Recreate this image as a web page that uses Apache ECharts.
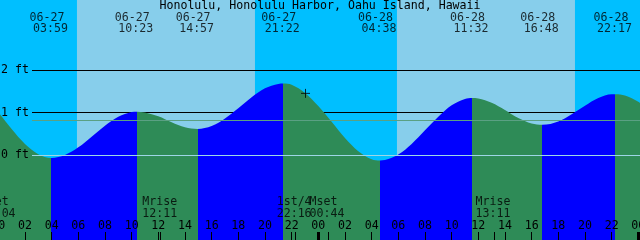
<!DOCTYPE html>
<html><head><meta charset="utf-8">
<script src="https://cdn.jsdelivr.net/npm/echarts@6/dist/echarts.min.js"></script>
<style>html,body{margin:0;padding:0;background:#00BFFF}#c{width:640px;height:240px}</style>
</head><body><div id="c"></div>
<script>
const chartTitle = 'Honolulu, Honolulu Harbor, Oahu Island, Hawaii';
// Tide readings: hours from 06-27 00:00, height in feet
const tideHours = [-1, 0, 1, 2, 3, 3.983, 5, 6, 7, 8, 9, 10, 10.383, 11, 12, 13, 14, 14.95, 16, 17, 18, 19, 20, 21, 21.367, 22, 23, 24, 25, 26, 27, 28, 28.633, 29, 30, 31, 32, 33, 34, 35, 35.533, 36, 37, 38, 39, 40, 40.8, 42, 43, 44, 45, 46, 46.283, 47, 48, 49];
const tideFeet = [1.36, 1.01, 0.61, 0.26, 0.02, -0.07, 0.00, 0.18, 0.43, 0.69, 0.90, 1.01, 1.02, 1.00, 0.91, 0.77, 0.65, 0.61, 0.68, 0.86, 1.10, 1.36, 1.57, 1.67, 1.68, 1.65, 1.46, 1.15, 0.78, 0.40, 0.09, -0.10, -0.13, -0.12, 0.01, 0.26, 0.58, 0.90, 1.17, 1.32, 1.34, 1.33, 1.23, 1.06, 0.87, 0.74, 0.71, 0.79, 0.96, 1.16, 1.34, 1.43, 1.43, 1.40, 1.25, 1.01];
// High / low tide events
const eventHours = [3.983, 10.383, 14.95, 21.367, 28.633, 35.533, 40.8, 46.283];
const eventKinds = ['low', 'high', 'low', 'high', 'low', 'high', 'low', 'high'];
const eventDates = ['06-27', '06-27', '06-27', '06-27', '06-28', '06-28', '06-28', '06-28'];
const eventTimes = ['03:59', '10:23', '14:57', '21:22', '04:38', '11:32', '16:48', '22:17'];
// Daylight
const sunriseHours = [5.9, 29.9];
const sunsetHours = [19.25, 43.25];
// Moon events
const moonHours = [0.067, 12.183, 22.267, 24.733, 37.183];
const moonNames = ['Mset', 'Mrise', '1st/4', 'Mset', 'Mrise'];
const moonTimes = ['00:04', '12:11', '22:16', '00:44', '13:11'];
// Axis ticks
const hourTicks = [0, 2, 4, 6, 8, 10, 12, 14, 16, 18, 20, 22, 24, 26, 28, 30, 32, 34, 36, 38, 40, 42, 44, 46, 48];
const midnightTicks = [0, 24, 48];
const blackLevels = [1, 2];
const datumLevel = 0;
const mslLevel = 0.82;
const nowPoint = [23.04, 1.45];

const FONT = 'DejaVu Sans Mono';
const FS = 11.6;
const NIGHT = '#00BFFF', DAY = '#87CEEB', FLOOD = '#0000FF', EBB = '#2E8B57';
const Y_MIN = -2, Y_MAX = 3.647, X_MIN = 0, X_MAX = 48.1275;

const pieces = [{gte: -10, lt: eventHours[0], color: EBB}];
eventHours.forEach((h, i) => {
  const next = i + 1 < eventHours.length ? eventHours[i + 1] : 60;
  pieces.push({gte: h, lt: next, color: eventKinds[i] === 'low' ? FLOOD : EBB});
});

const txt = {color: '#000', fontFamily: FONT, fontSize: FS};
const baseX = {type: 'value', min: X_MIN, max: X_MAX, position: 'bottom', z: 10,
  axisLine: {show: false, onZero: false}, splitLine: {show: false}};

const chart = echarts.init(document.getElementById('c'), null, {renderer: 'canvas'});
chart.setOption({
  animation: false,
  backgroundColor: NIGHT,
  title: {text: chartTitle, left: 'center', top: 0, padding: 0,
    textStyle: {color: '#000', fontFamily: FONT, fontSize: FS, fontWeight: 'normal'}},
  grid: {left: -1.7, right: 0, top: 0, bottom: 0, containLabel: false, outerBoundsMode: 'none'},
  xAxis: [
    Object.assign({}, baseX, {
      axisTick: {show: true, inside: true, length: 8, customValues: hourTicks, lineStyle: {color: '#000', width: 1}},
      axisLabel: Object.assign({show: true, inside: true, margin: 14.5, verticalAlign: 'middle', customValues: hourTicks,
        formatter: v => String(Math.round(v) % 24).padStart(2, '0')}, txt)
    }),
    Object.assign({}, baseX, {
      axisTick: {show: true, inside: true, length: 8, customValues: midnightTicks, lineStyle: {color: '#000', width: 3}},
      axisLabel: {show: false}
    }),
    Object.assign({}, baseX, {
      axisTick: {show: true, inside: true, length: 8, customValues: moonHours, lineStyle: {color: '#000', width: 1}},
      axisLabel: {show: false}
    })
  ],
  yAxis: {type: 'value', min: Y_MIN, max: Y_MAX, show: false, splitLine: {show: false}},
  visualMap: {type: 'piecewise', show: false, dimension: 0, seriesIndex: 1, pieces: pieces, outOfRange: {color: EBB}},
  series: [
    {type: 'line', name: 'bg', data: [[0, Y_MIN]], showSymbol: false, lineStyle: {opacity: 0}, silent: true, z: 1,
      markArea: {silent: true, z: 0, itemStyle: {color: DAY, opacity: 1},
        data: sunriseHours.map((s, i) => [{xAxis: s}, {xAxis: sunsetHours[i]}])},
      markLine: {silent: true, z: 1, symbol: 'none', precision: 3,
        lineStyle: {color: '#000', width: 1, type: 'solid'},
        label: Object.assign({show: true, position: 'start', distance: 3}, txt),
        emphasis: {disabled: true},
        data: blackLevels.map(v => [{x: 32, yAxis: v, label: {formatter: v + ' ft'}}, {x: 640, yAxis: v}])}
    },
    {type: 'line', name: 'tide', data: tideHours.map((h, i) => [h, tideFeet[i]]),
      smooth: 0.33, showSymbol: false, silent: true, z: 2,
      lineStyle: {width: 0}, areaStyle: {origin: 'start', opacity: 1}},
    {type: 'line', name: 'levels', data: [[0, Y_MIN]], showSymbol: false, lineStyle: {opacity: 0}, silent: true, z: 3,
      markLine: {silent: true, z: 3, symbol: 'none', precision: 3,
        label: Object.assign({show: true, position: 'start', distance: 3}, txt),
        emphasis: {disabled: true},
        data: [
          [{x: 32, yAxis: datumLevel, lineStyle: {color: '#9ed6e6', width: 1, type: 'solid'}, label: {formatter: datumLevel + ' ft'}}, {x: 640, yAxis: datumLevel}],
          [{x: 32, yAxis: mslLevel, lineStyle: {color: '#5aa083', width: 1, type: 'solid'}, label: {show: false}}, {x: 640, yAxis: mslLevel}]
        ]}
    },
    {type: 'scatter', name: 'dates', data: eventHours.map(h => [h, Y_MAX]), symbolSize: 1, clip: false, silent: true, z: 4,
      itemStyle: {color: 'transparent'},
      label: Object.assign({show: true, position: 'inside', offset: [-4.5, 17.5], formatter: p => eventDates[p.dataIndex]}, txt)},
    {type: 'scatter', name: 'times', data: eventHours.map(h => [h, Y_MAX]), symbolSize: 1, clip: false, silent: true, z: 4,
      itemStyle: {color: 'transparent'},
      label: Object.assign({show: true, position: 'inside', offset: [-1, 29.2], formatter: p => eventTimes[p.dataIndex]}, txt)},
    {type: 'scatter', name: 'moonNames', data: moonHours.map(h => [h, Y_MIN]), symbolSize: 1, clip: false, silent: true, z: 4,
      itemStyle: {color: 'transparent'},
      label: Object.assign({show: true, position: 'inside', align: 'left', offset: [-18.5, -37.8], formatter: p => moonNames[p.dataIndex]}, txt)},
    {type: 'scatter', name: 'moonTimes', data: moonHours.map(h => [h, Y_MIN]), symbolSize: 1, clip: false, silent: true, z: 4,
      itemStyle: {color: 'transparent'},
      label: Object.assign({show: true, position: 'inside', align: 'left', offset: [-18.5, -26.1], formatter: p => moonTimes[p.dataIndex]}, txt)},
    {type: 'scatter', name: 'now', data: [nowPoint], symbol: 'path://M0,4.5L9,4.5M4.5,0L4.5,9', symbolSize: 9, silent: true, z: 5,
      itemStyle: {color: 'none', borderColor: '#000', borderWidth: 1}}
  ]
});
</script></body></html>
